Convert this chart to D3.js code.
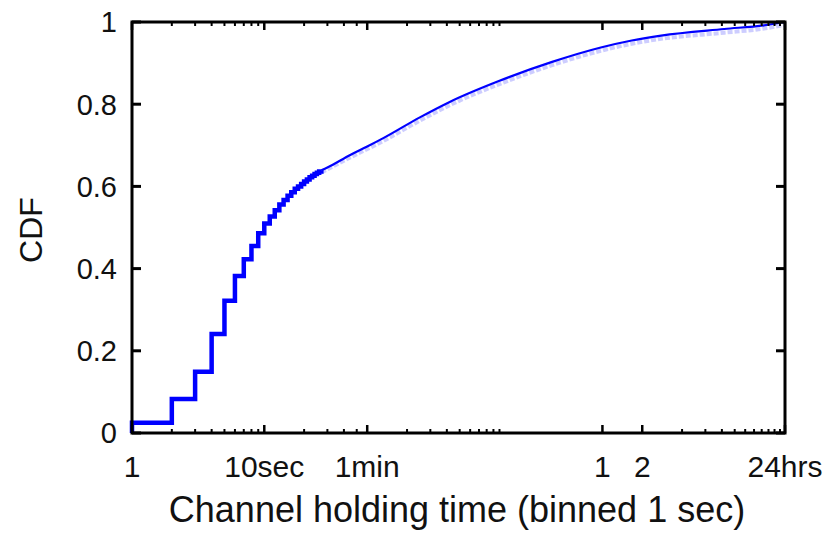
<!DOCTYPE html>
<html>
<head>
<meta charset="utf-8">
<script src="https://cdn.jsdelivr.net/npm/d3@7"></script>
<style>
  html, body { margin: 0; padding: 0; background: #fff; }
  svg { display: block; }
  text { font-family: "Liberation Sans", Arial, sans-serif; fill: #111; }
</style>
</head>
<body>
<svg id="chart" width="827" height="537"></svg>
<script>
// ---- data ----
// stepped part: CDF at each integer second (binned 1 sec)
const stepSeconds = [1, 2, 3, 4, 5, 6, 7, 8, 9, 10, 11, 12, 13, 14, 15, 16, 17, 18, 19, 20, 21, 22, 23, 24, 25, 26, 27];
const stepCdf     = [0.025, 0.083, 0.149, 0.241, 0.322, 0.382, 0.423, 0.455, 0.486, 0.510, 0.527, 0.542, 0.556, 0.567, 0.577, 0.586, 0.594, 0.600, 0.606, 0.612, 0.617, 0.622, 0.626, 0.630, 0.633, 0.636, 0.639];
// dense part (looks continuous)
const tailSeconds = [27, 30, 45, 60, 80, 150, 250, 600, 1500, 3500, 6000, 10000, 30000, 60000, 86400];
const tailCdf     = [0.639, 0.646, 0.677, 0.697, 0.718, 0.768, 0.805, 0.857, 0.903, 0.938, 0.955, 0.967, 0.983, 0.992, 1.0];
// faint companion series (light blue band just below the line)
const lightSeconds = [27, 45, 80, 150, 250, 600, 1500, 3500, 6000, 10000, 30000, 60000, 86400];
const lightCdf     = [0.634, 0.671, 0.711, 0.760, 0.797, 0.849, 0.895, 0.930, 0.947, 0.959, 0.974, 0.984, 0.993];

// axis ticks
const xMajorTicks  = [1, 10, 60, 3600, 7200, 86400];
const xMajorLabels = ["1", "10sec", "1min", "1", "2", "24hrs"];
const xMinorTicks  = [2, 3, 4, 5, 6, 7, 8, 9, 20, 30, 40, 50, 120, 180, 240, 300, 360, 420, 480, 540, 600,
                      14400, 21600, 28800, 36000, 43200, 50400, 57600, 64800, 72000, 79200];
const yTicks       = [0, 0.2, 0.4, 0.6, 0.8, 1];
const yTickLabels  = ["0", "0.2", "0.4", "0.6", "0.8", "1"];
const xTitle = "Channel holding time (binned 1 sec)";
const yTitle = "CDF";

// ---- layout ----
const L = 132, R = 785, T = 22, B = 433;
const svg = d3.select("#chart");

const x = d3.scaleLog().domain([1, 86400]).range([L, R]);
const y = d3.scaleLinear().domain([0, 1]).range([B, T]);

// faint series
const light = lightSeconds.map((s, i) => ({ s, c: lightCdf[i] }));
svg.append("path")
  .datum(light)
  .attr("fill", "none")
  .attr("stroke", "#b8b8ff")
  .attr("stroke-width", 4)
  .attr("stroke-dasharray", "5,2")
  .attr("opacity", 0.7)
  .attr("d", d3.line().x(d => x(d.s)).y(d => y(d.c)).curve(d3.curveMonotoneX));

// stepped part
const steps = [{ s: 1, c: 0 }].concat(stepSeconds.map((s, i) => ({ s, c: stepCdf[i] })));
svg.append("path")
  .datum(steps)
  .attr("fill", "none")
  .attr("stroke", "#0000ff")
  .attr("stroke-width", 4.5)
  .attr("stroke-linejoin", "miter")
  .attr("d", d3.line().x(d => x(d.s)).y(d => y(d.c)).curve(d3.curveStepAfter));

// continuous part
const tail = tailSeconds.map((s, i) => ({ s, c: tailCdf[i] }));
svg.append("path")
  .datum(tail)
  .attr("fill", "none")
  .attr("stroke", "#0000ff")
  .attr("stroke-width", 2.2)
  .attr("d", d3.line().x(d => x(d.s)).y(d => y(d.c)).curve(d3.curveMonotoneX));

// ---- ticks (inward, on all four sides) ----
const tickG = svg.append("g").attr("stroke", "#000");
function xTick(v, len, w) {
  tickG.append("line").attr("x1", x(v)).attr("x2", x(v)).attr("y1", B).attr("y2", B - len).attr("stroke-width", w);
  tickG.append("line").attr("x1", x(v)).attr("x2", x(v)).attr("y1", T).attr("y2", T + len).attr("stroke-width", w);
}
xMinorTicks.forEach(v => xTick(v, 4, 2));
xMajorTicks.forEach(v => xTick(v, 8, 2.5));
yTicks.forEach(v => {
  tickG.append("line").attr("x1", L).attr("x2", L + 9).attr("y1", y(v)).attr("y2", y(v)).attr("stroke-width", 3);
  tickG.append("line").attr("x1", R).attr("x2", R - 9).attr("y1", y(v)).attr("y2", y(v)).attr("stroke-width", 3);
});

// frame
svg.append("rect")
  .attr("x", L).attr("y", T).attr("width", R - L).attr("height", B - T)
  .attr("fill", "none").attr("stroke", "#000").attr("stroke-width", 3);

// ---- labels ----
svg.append("g").selectAll("text").data(yTicks).join("text")
  .attr("x", 117).attr("y", d => y(d)).attr("dy", "0.36em")
  .attr("text-anchor", "end").attr("font-size", 29)
  .text((d, i) => yTickLabels[i]);

svg.append("g").selectAll("text").data(xMajorTicks).join("text")
  .attr("x", d => x(d)).attr("y", 477)
  .attr("text-anchor", "middle").attr("font-size", 30)
  .text((d, i) => xMajorLabels[i]);

svg.append("text")
  .attr("x", 457).attr("y", 522)
  .attr("text-anchor", "middle").attr("font-size", 36)
  .text(xTitle);

svg.append("text")
  .attr("transform", "translate(42,230) rotate(-90)")
  .attr("text-anchor", "middle").attr("font-size", 32)
  .text(yTitle);
</script>
</body>
</html>
